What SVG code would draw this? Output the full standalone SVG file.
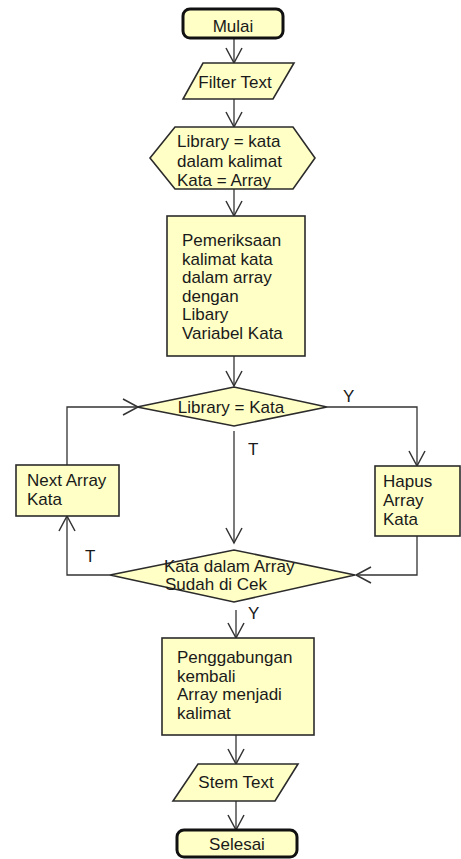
<svg xmlns="http://www.w3.org/2000/svg" width="461" height="859" viewBox="0 0 461 859">
  <style>
    .box { fill: #FFFFC6; stroke: #2b2b2b; stroke-width: 1.6; }
    .term { fill: #FFFFC6; stroke: #111; stroke-width: 3; }
    .lbl { font-family: "Liberation Sans", Arial, sans-serif; font-size: 17px; fill: #1a1a1a; }
    .mid { text-anchor: middle; }
    .wire { fill: none; stroke: #333; stroke-width: 1.3; }
  </style>
  <defs>
    <!-- open V arrowhead used on every flow line -->
    <marker id="open" markerUnits="userSpaceOnUse" markerWidth="18" markerHeight="20" viewBox="0 0 18 20" refX="16" refY="10" orient="auto">
      <path d="M1,2 L16,10 L1,18" fill="none" stroke="#333" stroke-width="1.5"/>
    </marker>
  </defs>
  <rect width="461" height="859" fill="#ffffff"/>

  <g id="connectors">
    <line class="wire" x1="234" y1="38" x2="234" y2="63" marker-end="url(#open)"/>
    <line class="wire" x1="234" y1="99" x2="234" y2="127" marker-end="url(#open)"/>
    <line class="wire" x1="234" y1="189" x2="234" y2="216" marker-end="url(#open)"/>
    <line class="wire" x1="234" y1="356" x2="234" y2="386" marker-end="url(#open)"/>
    <polyline class="wire" points="327,407 417,407 417,466" marker-end="url(#open)"/>
    <line class="wire" x1="234" y1="431" x2="234" y2="543" marker-end="url(#open)"/>
    <polyline class="wire" points="417,536 417,575 356,575" marker-end="url(#open)"/>
    <polyline class="wire" points="110,575 67,575 67,516" marker-end="url(#open)"/>
    <polyline class="wire" points="67,465 67,407 138,407" marker-end="url(#open)"/>
    <line class="wire" x1="236" y1="610" x2="236" y2="638" marker-end="url(#open)"/>
    <line class="wire" x1="236" y1="735" x2="236" y2="764" marker-end="url(#open)"/>
    <line class="wire" x1="236" y1="801" x2="236" y2="830" marker-end="url(#open)"/>
    <text class="lbl" x="343" y="402">Y</text>
    <text class="lbl" x="248" y="455">T</text>
    <text class="lbl" x="85" y="562">T</text>
    <text class="lbl" x="248" y="619">Y</text>
  </g>

  <g id="mulai">
    <rect class="term" x="183" y="9" width="100" height="29" rx="7"/>
    <text class="lbl mid" x="233" y="32">Mulai</text>
  </g>

  <g id="filter-text">
    <polygon class="box" points="203,63 294,63 273,99 183,99"/>
    <text class="lbl mid" x="235" y="88">Filter Text</text>
  </g>

  <g id="init">
    <polygon class="box" points="175,127 293,127 315,158 293,189 175,189 150,158"/>
    <text class="lbl" x="177" y="147">Library = kata</text>
    <text class="lbl" x="177" y="167">dalam kalimat</text>
    <text class="lbl" x="177" y="186">Kata = Array</text>
  </g>

  <g id="pemeriksaan">
    <rect class="box" x="167" y="216" width="138" height="140"/>
    <text class="lbl" x="182" y="246">Pemeriksaan</text>
    <text class="lbl" x="182" y="264.5">kalimat kata</text>
    <text class="lbl" x="182" y="283">dalam array</text>
    <text class="lbl" x="182" y="301.5">dengan</text>
    <text class="lbl" x="182" y="320">Libary</text>
    <text class="lbl" x="182" y="338.5">Variabel Kata</text>
  </g>

  <g id="cek-library">
    <polygon class="box" points="137,407 234,387 327,407 234,426"/>
    <text class="lbl mid" x="231" y="413">Library = Kata</text>
  </g>

  <g id="next-array">
    <rect class="box" x="16" y="465" width="103" height="51"/>
    <text class="lbl" x="27" y="486">Next Array</text>
    <text class="lbl" x="27" y="505">Kata</text>
  </g>

  <g id="hapus">
    <rect class="box" x="375" y="466" width="85" height="70"/>
    <text class="lbl" x="383" y="487">Hapus</text>
    <text class="lbl" x="383" y="506">Array</text>
    <text class="lbl" x="383" y="525">Kata</text>
  </g>

  <g id="cek-array">
    <polygon class="box" points="110,575 234,550 355,575 234,602"/>
    <text class="lbl" x="164" y="572">Kata dalam Array</text>
    <text class="lbl" x="165" y="590">Sudah di Cek</text>
  </g>

  <g id="penggabungan">
    <rect class="box" x="162" y="638" width="152" height="97"/>
    <text class="lbl" x="177" y="663">Penggabungan</text>
    <text class="lbl" x="177" y="681.5">kembali</text>
    <text class="lbl" x="177" y="700">Array menjadi</text>
    <text class="lbl" x="177" y="718.5">kalimat</text>
  </g>

  <g id="stem-text">
    <polygon class="box" points="198,764 298,764 275,801 173,801"/>
    <text class="lbl mid" x="236" y="788">Stem Text</text>
  </g>

  <g id="selesai">
    <rect class="term" x="177" y="830" width="120" height="27" rx="7"/>
    <text class="lbl mid" x="237" y="850">Selesai</text>
  </g>
</svg>
